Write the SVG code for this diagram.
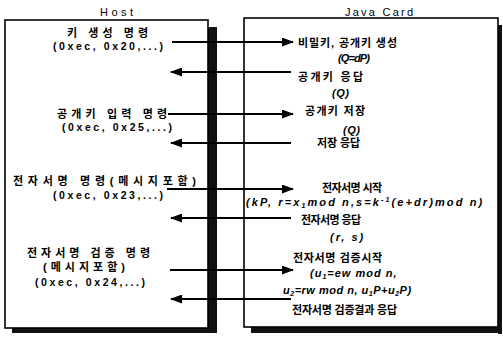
<svg xmlns="http://www.w3.org/2000/svg" width="503" height="337" viewBox="0 0 503 337">
<defs>
<marker id="ah" markerWidth="12" markerHeight="9" refX="11" refY="4.5" orient="auto" markerUnits="userSpaceOnUse">
<path d="M0,0 L12,4.5 L0,9 Z" fill="#000"/>
</marker>
</defs>
<style>
.k{font-family:"Liberation Sans","Noto Sans CJK KR",sans-serif;font-size:11px;font-weight:bold;fill:#000}
.l{font-family:"Liberation Sans","Noto Sans CJK KR",sans-serif;font-size:10.5px;font-weight:bold;fill:#000}
.m{font-family:"Liberation Sans",sans-serif;font-size:11px;font-style:italic;font-weight:bold;fill:#000}
.t{font-family:"Liberation Sans",sans-serif;font-size:11px;fill:#000}
.box{fill:#fff;stroke:#000;stroke-width:1.6}
.sh{fill:#111}
.c{stroke:#000;stroke-width:1.8;fill:none}
.r{marker-end:url(#ah)}
</style>
<rect width="503" height="337" fill="#fff"/>
<g id="host">
<rect class="sh" x="208" y="27" width="9" height="306"/>
<rect class="sh" x="12" y="328" width="205" height="5"/>
<rect class="box" x="5" y="20" width="203" height="308"/>
<text class="t" x="100" y="16" textLength="33" lengthAdjust="spacing">Host</text>
<text class="k" x="67" y="37" textLength="81" lengthAdjust="spacing">키 생성 명령</text>
<text class="l" x="53" y="50" textLength="110" lengthAdjust="spacing">(0xec, 0x20,...)</text>
<text class="k" x="57" y="118" textLength="110" lengthAdjust="spacing">공개키 입력 명령</text>
<text class="l" x="62" y="131" textLength="110" lengthAdjust="spacing">(0xec, 0x25,...)</text>
<text class="k" x="13" y="185" textLength="183" lengthAdjust="spacing">전자서명 명령(메시지포함)</text>
<text class="l" x="53" y="199" textLength="110" lengthAdjust="spacing">(0xec, 0x23,...)</text>
<text class="k" x="27" y="257" textLength="123" lengthAdjust="spacing">전자서명 검증 명령</text>
<text class="k" x="43" y="271" textLength="82" lengthAdjust="spacing">(메시지포함)</text>
<text class="l" x="35" y="286" textLength="110" lengthAdjust="spacing">(0xec, 0x24,...)</text>
</g>
<g id="javacard">
<rect class="sh" x="498" y="25" width="4" height="309"/>
<rect class="sh" x="251" y="327" width="251" height="6"/>
<rect class="box" x="244" y="18" width="254" height="309"/>
<text class="t" x="345" y="16" textLength="68" lengthAdjust="spacing">Java Card</text>
<text class="k" x="298" y="47" textLength="99" lengthAdjust="spacing">비밀키, 공개키 생성</text>
<text class="m" x="338" y="62" textLength="32" lengthAdjust="spacing">(Q=dP)</text>
<text class="k" x="298" y="81" textLength="65" lengthAdjust="spacing">공개키 응답</text>
<text class="m" x="332" y="97" textLength="17" lengthAdjust="spacing">(Q)</text>
<text class="k" x="305" y="115" textLength="60" lengthAdjust="spacing">공개키 저장</text>
<text class="m" x="343" y="134" textLength="17" lengthAdjust="spacing">(Q)</text>
<text class="k" x="317" y="147" textLength="43" lengthAdjust="spacing">저장 응답</text>
<text class="k" x="322" y="192" textLength="60" lengthAdjust="spacing">전자서명 시작</text>
<text class="m" x="246" y="206" letter-spacing="2.1">(kP, r=x<tspan font-size="7" dy="2">1</tspan><tspan dy="-2">mod n,s=k</tspan><tspan font-size="7" dy="-4">-1</tspan><tspan dy="4">(e+dr)mod n)</tspan></text>
<text class="k" x="301" y="224" textLength="60" lengthAdjust="spacing">전자서명 응답</text>
<text class="m" x="330" y="241" letter-spacing="2">(r, s)</text>
<text class="k" x="293" y="262" textLength="89" lengthAdjust="spacing">전자서명 검증시작</text>
<text class="m" x="310" y="277" letter-spacing="1">(u<tspan font-size="7" dy="2">1</tspan><tspan dy="-2">=ew mod n,</tspan></text>
<text class="m" x="283" y="294" letter-spacing="0.5">u<tspan font-size="7" dy="2">2</tspan><tspan dy="-2">=rw mod n, u</tspan><tspan font-size="7" dy="2">1</tspan><tspan dy="-2">P+u</tspan><tspan font-size="7" dy="2">2</tspan><tspan dy="-2">P)</tspan></text>
<text class="k" x="292" y="314" textLength="105" lengthAdjust="spacing">전자서명 검증결과 응답</text>
</g>
<g id="connectors">
<line class="c r" x1="172" y1="42" x2="293" y2="42"/>
<line class="c r" x1="291" y1="72" x2="171" y2="72"/>
<line class="c r" x1="168" y1="114" x2="293" y2="114"/>
<line class="c r" x1="291" y1="143" x2="171" y2="143"/>
<line class="c r" x1="167" y1="189" x2="293" y2="189"/>
<line class="c r" x1="291" y1="218" x2="171" y2="218"/>
<line class="c r" x1="170" y1="270" x2="293" y2="270"/>
<line class="c r" x1="291" y1="299" x2="171" y2="299"/>
</g>
</svg>
